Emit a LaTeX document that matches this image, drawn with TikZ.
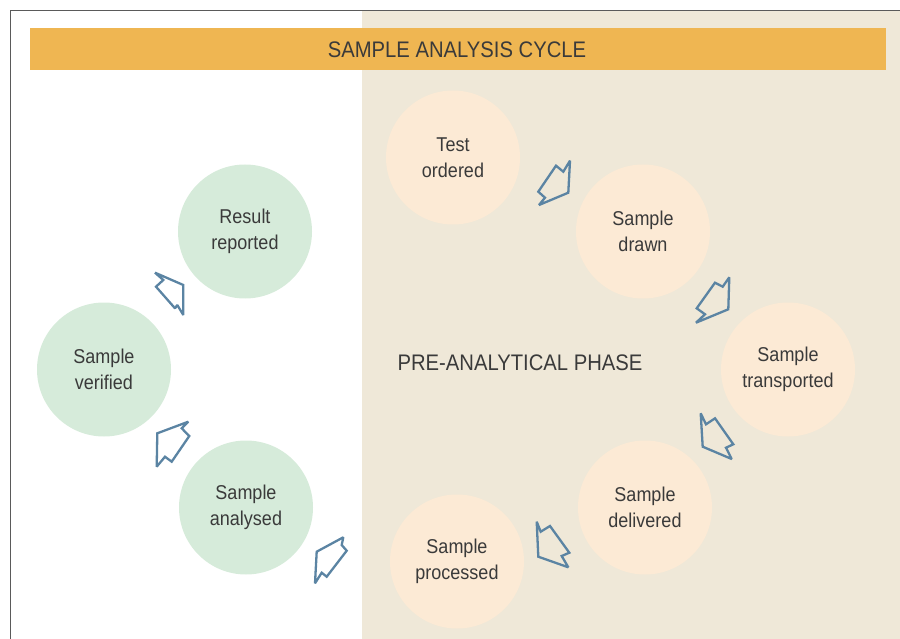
\documentclass[tikz,border=0pt]{standalone}
\usepackage{fontspec}
\setmainfont{Liberation Sans}[FakeStretch=0.9]
\definecolor{framegray}{HTML}{5A5A5A}
\definecolor{phasebg}{HTML}{EFE8D8}
\definecolor{barorange}{HTML}{EFB652}
\definecolor{mint}{HTML}{D6EBDA}
\definecolor{peach}{HTML}{FCEAD5}
\definecolor{arrowblue}{HTML}{5B84A3}
\definecolor{txt}{HTML}{3A3A3A}
\tikzset{
  stepcircle/.style={circle, minimum size=134pt, inner sep=0pt, align=center,
    text=txt, font=\fontsize{20}{26}\selectfont},
  greencircle/.style={stepcircle, fill=mint},
  peachcircle/.style={stepcircle, fill=peach},
  flowarrow/.style={draw=arrowblue, line width=2.3pt, line join=miter, miter limit=1.6},
  heading/.style={text=txt, font=\fontsize{22.5}{26}\selectfont, inner sep=0pt}
}
\begin{document}
\begin{tikzpicture}[x=1pt, y=-1pt]
\useasboundingbox (0,0) rectangle (900,639);
% pre-analytical background and frame
\fill[phasebg] (362,11) rectangle (900,639);
\draw[framegray, line width=1.5pt] (10.5,639) -- (10.5,10.5) -- (900,10.5);
% title bar
\fill[barorange] (30,28) rectangle (886,70);
\node[heading] (title) at (457,50) {SAMPLE ANALYSIS CYCLE};
\node[heading] (phase) at (520,363) {PRE-ANALYTICAL PHASE};
% steps
\node[peachcircle] (ordered) at (453,157.5) {Test\\ordered};
\node[peachcircle] (drawn) at (643,231.5) {Sample\\drawn};
\node[peachcircle] (transported) at (788,369.5) {Sample\\transported};
\node[peachcircle] (delivered) at (645,507.5) {Sample\\delivered};
\node[peachcircle] (processed) at (457,561.5) {Sample\\processed};
\node[greencircle] (analysed) at (246,507.5) {Sample\\analysed};
\node[greencircle] (verified) at (104,369.5) {Sample\\verified};
\node[greencircle] (reported) at (245,231.5) {Result\\reported};
% arrows between steps
\draw[flowarrow] (570,160.7) -- (568.3,192.7) -- (539,205) -- (545,197.7) -- (538.3,191.7) -- (556,165.7) -- (563.3,171.7) -- cycle;
\draw[flowarrow] (729.3,277.3) -- (728.3,309.3) -- (696,322.7) -- (705,314.3) -- (696.7,308.3) -- (715,282.7) -- (722.7,286.7) -- cycle;
\draw[flowarrow] (700.7,413.3) -- (706,424.3) -- (715,418.3) -- (733.3,444.3) -- (726,447.7) -- (731.7,459) -- (702.7,446.7) -- cycle;
\draw[flowarrow] (536.7,521.7) -- (540.7,531.7) -- (550,526) -- (569.3,552.7) -- (561.7,556) -- (568.3,567.3) -- (538.3,556.7) -- cycle;
\draw[flowarrow] (343.3,537.3) -- (341.7,545) -- (346.7,550.7) -- (326.7,576.7) -- (321.7,572.7) -- (315,583.3) -- (316.7,551.7) -- cycle;
\draw[flowarrow] (188.3,421.7) -- (181.7,428.3) -- (189.3,436) -- (171.7,461.7) -- (165,456.7) -- (156.7,466.7) -- (157.3,433.3) -- cycle;
\draw[flowarrow] (155,272.7) -- (163.3,280) -- (156,286.7) -- (175,308.3) -- (177.3,305) -- (183.3,315) -- (183.3,285) -- cycle;
\end{tikzpicture}
\end{document}
